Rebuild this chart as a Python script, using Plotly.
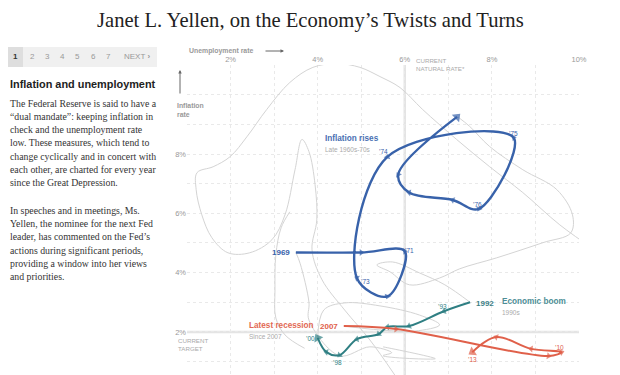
import plotly.graph_objects as go

# ---------------- DATA ----------------
# Blue: inflation rises, 1969-1980 (unemployment %, inflation %)
BLUE_YEARS = [1969, 1970, 1971, 1972, 1973, 1974, 1975, 1976, 1977, 1978, 1979, 1980]
BLUE_U = [3.5, 5.0, 6.0, 5.6, 4.9, 5.6, 8.5, 7.7, 7.1, 6.1, 5.85, 7.2]
BLUE_I = [4.68, 4.68, 4.72, 3.2, 3.82, 7.9, 8.55, 6.15, 6.45, 6.7, 7.3, 9.25]

# Teal: economic boom, 1992-2000
TEAL_YEARS = [1992, 1993, 1994, 1995, 1996, 1997, 1998, 1999, 2000]
TEAL_U = [7.5, 6.9, 6.1, 5.6, 5.4, 4.9, 4.5, 4.2, 4.0]
TEAL_I = [3.0, 2.7, 2.2, 2.17, 1.93, 1.76, 1.22, 1.32, 1.8]

# Red: latest recession, 2007-2013
RED_YEARS = [2007, 2008, 2009, 2010, 2011, 2012, 2013]
RED_U = [4.6, 5.8, 9.3, 9.6, 8.9, 8.1, 7.55]
RED_I = [2.2, 2.1, 1.19, 1.32, 1.43, 1.83, 1.32]

# Gray: other years (traced)
GRAY_A_U = [10.43, 9.56, 8.71, 7.95, 7.19, 6.41, 5.89, 5.43, 4.97, 4.44, 3.89, 3.36, 2.83, 2.38,
            1.99, 1.60, 1.23, 1.21, 1.34, 1.57, 1.94, 2.44, 2.95, 3.25, 3.48, 3.64, 3.80, 3.94,
            3.98, 3.87, 4.10, 4.62, 5.20, 5.77]
GRAY_A_I = [4.70, 5.61, 6.70, 7.57, 8.49, 9.50, 10.24, 10.61, 10.92, 11.05, 10.92, 10.41, 9.50, 8.59,
            7.91, 7.57, 7.37, 6.80, 5.95, 5.18, 4.67, 4.67, 5.11, 5.95, 7.47, 8.49, 8.08, 6.97,
            5.78, 4.77, 3.76, 2.74, 1.73, 0.55]
GRAY_B_U = [7.22, 7.49, 7.95, 8.71, 9.49, 9.85, 9.81, 9.17, 8.11, 7.26, 6.80, 6.11, 5.66, 5.36, 5.72, 6.34, 6.92, 7.5]
GRAY_B_I = [9.25, 8.93, 8.25, 7.47, 6.80, 5.95, 5.34, 5.01, 4.50, 4.13, 3.82, 3.59, 4.03, 4.26, 4.36, 3.99, 3.59, 3.0]
GRAY_C_U = [3.5, 3.6, 3.8, 3.8, 4.5, 5.2, 5.7, 5.5, 6.7, 5.5, 5.5]
GRAY_C_I = [4.68, 4.3, 3.0, 2.4, 1.2, 1.5, 1.3, 1.2, 1.1, 1.5, 1.5]
GRAY_D_U = [3.36, 3.16, 3.04, 3.02, 3.04, 3.25, 3.7]
GRAY_D_I = [6.05, 5.51, 4.60, 3.42, 2.47, 1.90, 1.45]
GRAY_E_U = [4.0, 4.14, 4.62, 5.43, 6.34, 6.80, 6.23, 5.43, 4.6]
GRAY_E_I = [1.8, 2.74, 2.98, 2.88, 2.57, 2.24, 2.03, 2.07, 2.2]

X_TICKS = [1, 2, 3, 4, 5, 6, 7, 8, 9, 10]
X_TICK_LABELS = ["", "2%", "", "4%", "", "6%", "", "8%", "", "10%"]
Y_TICKS = [1, 2, 3, 4, 5, 6, 7, 8, 9, 10, 11]
Y_TICK_LABELS = ["", "2%", "", "4%", "", "6%", "", "8%", "", "", ""]
NATURAL_RATE = 6.0
TARGET = 2.0

BODY_P1 = ["The Federal Reserve is said to have a",
           "“dual mandate”: keeping inflation in",
           "check and the unemployment rate",
           "low. These measures, which tend to",
           "change cyclically and in concert with",
           "each other, are charted for every year",
           "since the Great Depression."]
BODY_P2 = ["In speeches and in meetings, Ms.",
           "Yellen, the nominee for the next Fed",
           "leader, has commented on the Fed’s",
           "actions during significant periods,",
           "providing a window into her views",
           "and priorities."]

BLUE = "#3862aa"
TEAL = "#2f7f83"
RED = "#e0604a"
GRAY = "#d4d4d4"

# ---------------- LAYOUT HELPERS ----------------
OFF = 8                      # page body margin
W, H = 612, 367
L, R, T, B = 179, 41, 57, 0
PW, PH = W - L - R, H - T - B


def px(x):
    return (x - OFF - L) / PW


def py(y):
    return (H - B - (y - OFF)) / PH


fig = go.Figure()

for gu, gi in [(GRAY_A_U, GRAY_A_I), (GRAY_B_U, GRAY_B_I), (GRAY_C_U, GRAY_C_I),
               (GRAY_D_U, GRAY_D_I), (GRAY_E_U, GRAY_E_I)]:
    fig.add_trace(go.Scatter(x=gu, y=gi, mode="lines", line=dict(color=GRAY, width=1, shape="spline"),
                             hoverinfo="skip", showlegend=False))


def series(u, i, color, width):
    n = len(u)
    sizes = [6] * (n - 1) + [9]
    fig.add_trace(go.Scatter(
        x=u, y=i, mode="lines+markers",
        line=dict(color=color, width=width, shape="spline"),
        marker=dict(symbol="triangle-up", size=sizes, color=color, angleref="previous", angle=0,
                    line=dict(width=0)),
        hoverinfo="skip", showlegend=False))


series(BLUE_U, BLUE_I, BLUE, 2.4)
series(TEAL_U, TEAL_I, TEAL, 2.0)
series(RED_U, RED_I, RED, 2.0)

# reference lines
fig.add_shape(type="line", x0=NATURAL_RATE, x1=NATURAL_RATE, y0=0, y1=1, xref="x", yref="paper",
              line=dict(color="#e4e4e4", width=2.5), layer="below")
fig.add_shape(type="line", x0=0, x1=1, y0=TARGET, y1=TARGET, xref="paper", yref="y",
              line=dict(color="#e4e4e4", width=2.5), layer="below")

ann = []


def text(x, y, s, size=8, color="#999", bold=False, xanchor="left", yanchor="middle",
         family="Liberation Sans", align="left"):
    if bold:
        s = "<b>" + s + "</b>"
    ann.append(dict(x=px(x), y=py(y), xref="paper", yref="paper", text=s, showarrow=False,
                    xanchor=xanchor, yanchor=yanchor, align=align,
                    font=dict(size=size, color=color, family=family)))


# Title
text(310, 20.5, "Janet L. Yellen, on the Economy’s Twists and Turns", size=20.6, color="#222",
     xanchor="center", family="Liberation Serif")

# Left panel
nums = ["1", "2", "3", "4", "5", "6", "7"]
nx = [15, 32, 47, 62, 77, 93, 108]
for s, x in zip(nums, nx):
    text(x, 57, s, size=8, color="#333" if s == "1" else "#999", bold=(s == "1"), xanchor="center")
text(137, 57, "NEXT <b>›</b>", size=8, color="#999", xanchor="center")

text(8, 84, "Inflation and unemployment", size=10.9, color="#222", bold=True)
for k, line in enumerate(BODY_P1):
    text(8, 103 + 13.25 * k, line, size=9.8, color="#333", family="Liberation Serif")
for k, line in enumerate(BODY_P2):
    text(8, 210.5 + 13.2 * k, line, size=9.8, color="#333", family="Liberation Serif")

# Axis titles
text(187, 51, "Unemployment rate", size=6.9, color="#999", bold=True)
ann.append(dict(x=px(284), y=py(51), xref="paper", yref="paper", ax=-20, ay=0, axref="pixel", ayref="pixel",
                text="", showarrow=True, arrowhead=2, arrowsize=0.7, arrowwidth=1, arrowcolor="#666"))
ann.append(dict(x=px(180), y=py(70), xref="paper", yref="paper", ax=0, ay=25, axref="pixel", ayref="pixel",
                text="", showarrow=True, arrowhead=2, arrowsize=0.7, arrowwidth=1, arrowcolor="#666"))
text(175, 110, "Inflation<br>rate", size=6.9, color="#999", bold=True)
text(414, 64, "CURRENT<br>NATURAL RATE*", size=6.2, color="#aaa")
text(176, 344, "CURRENT<br>TARGET", size=6.2, color="#aaa")

# Series labels
text(323, 138, "Inflation rises", size=8.2, color="#4a70b2", bold=True)
text(323, 149, "Late 1960s-70s", size=6.5, color="#aaa")
text(247, 325, "Latest recession", size=8.2, color="#e26a55", bold=True)
text(247, 336, "Since 2007", size=6.5, color="#aaa")
text(500, 301, "Economic boom", size=8.2, color="#4d8e96", bold=True)
text(500, 312, "1990s", size=6.5, color="#aaa")

text(292, 252, "1969", size=8, color=BLUE, bold=True, xanchor="right")
text(340, 326, "2007", size=8, color=RED, bold=True, xanchor="right")
text(474, 303, "1992", size=8, color="#3d7f86", bold=True)

# small year labels
for s, x, y, c in [("’74", 383, 151, BLUE), ("’75", 513, 134, BLUE), ("’76", 477, 204, BLUE),
                   ("’71", 409, 250, BLUE), ("’73", 365, 281, BLUE),
                   ("’93", 442, 306, TEAL), ("’00", 310, 338, TEAL), ("’98", 337, 362, TEAL),
                   ("’10", 559, 347, RED), ("’13", 472, 359, RED)]:
    text(x, y, s, size=6.5, color=c, xanchor="center")

# pager boxes
fig.add_shape(type="rect", xref="paper", yref="paper", x0=px(8), x1=px(23), y0=py(67), y1=py(47),
              fillcolor="#dedede", line=dict(width=0), layer="below")
fig.add_shape(type="rect", xref="paper", yref="paper", x0=px(23), x1=px(157), y0=py(67), y1=py(47),
              fillcolor="#f0f0f0", line=dict(width=0), layer="below")

fig.update_layout(
    width=W, height=H, margin=dict(l=L, r=R, t=T, b=B, pad=0),
    paper_bgcolor="white", plot_bgcolor="white", showlegend=False,
    annotations=ann,
    xaxis=dict(range=[1, 10], side="top", tickvals=X_TICKS, ticktext=X_TICK_LABELS,
               showgrid=True, gridcolor="#e9e9e9", griddash="dot", gridwidth=1, zeroline=False,
               showline=False, ticks="", tickfont=dict(size=7.5, color="#999", family="Liberation Sans"),
               ticklabelstandoff=1),
    yaxis=dict(range=[0.55, 11.0], tickvals=Y_TICKS, ticktext=Y_TICK_LABELS,
               showgrid=True, gridcolor="#e9e9e9", griddash="dot", gridwidth=1, zeroline=False,
               showline=False, ticks="", tickfont=dict(size=7.5, color="#999", family="Liberation Sans")),
)

fig.write_html("out.html")
